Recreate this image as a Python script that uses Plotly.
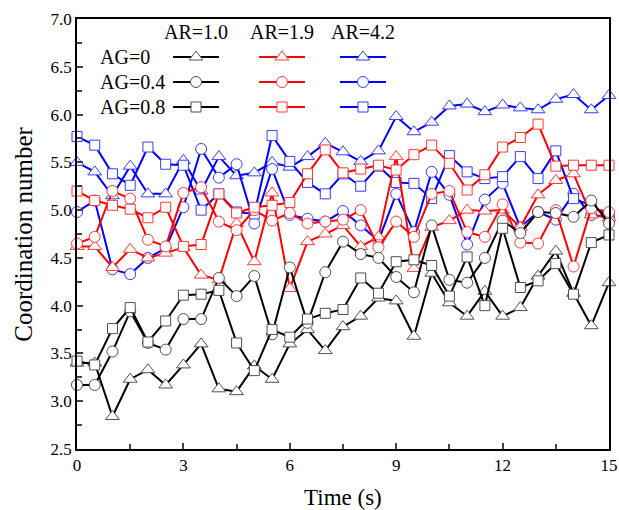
import plotly.graph_objects as go

# ---------------- data ----------------
time_s = [0, 0.5, 1, 1.5, 2, 2.5, 3, 3.5, 4, 4.5, 5, 5.5, 6, 6.5, 7, 7.5,
          8, 8.5, 9, 9.5, 10, 10.5, 11, 11.5, 12, 12.5, 13, 13.5, 14, 14.5, 15]

ar10_ag00 = [3.40, 3.40, 2.84, 3.23, 3.33, 3.17, 3.38, 3.60, 3.13, 3.10, 3.37, 3.23, 3.60, 3.75, 3.53, 3.78,
             3.89, 4.08, 4.05, 3.68, 4.34, 4.03, 3.89, 4.15, 3.89, 3.98, 4.31, 4.57, 4.13, 3.79, 4.24]
ar10_ag04 = [3.17, 3.17, 3.52, 3.94, 3.61, 3.54, 3.86, 3.86, 4.29, 4.10, 4.31, 3.70, 4.40, 3.82, 4.35, 4.67,
             4.54, 4.50, 4.30, 4.14, 4.84, 4.27, 4.24, 4.50, 4.89, 4.76, 4.98, 4.97, 4.93, 5.10, 4.86]
ar10_ag08 = [3.42, 3.38, 3.76, 3.98, 3.62, 3.84, 4.11, 4.12, 4.16, 3.61, 3.32, 3.75, 3.67, 3.86, 3.92, 3.96,
             4.29, 4.13, 4.46, 4.48, 4.42, 4.10, 4.51, 4.00, 4.81, 4.19, 4.26, 4.44, 4.12, 4.66, 4.74]

ar19_ag00 = [4.62, 4.62, 4.40, 4.59, 4.50, 4.55, 4.61, 4.32, 4.27, 4.86, 4.46, 5.18, 4.18, 4.67, 4.75, 4.84,
             4.62, 4.72, 5.56, 4.39, 4.82, 4.89, 5.00, 4.99, 5.00, 4.82, 5.16, 5.31, 5.38, 4.95, 4.92]
ar19_ag04 = [4.65, 4.72, 5.20, 5.12, 4.69, 4.62, 5.18, 5.24, 4.88, 4.79, 5.00, 4.89, 4.97, 4.86, 4.88, 4.90,
             5.00, 4.61, 4.88, 4.72, 5.17, 5.20, 4.77, 4.72, 5.06, 4.66, 4.65, 5.00, 4.41, 5.02, 4.98]
ar19_ag08 = [5.20, 5.10, 5.05, 5.01, 4.92, 5.03, 4.62, 4.64, 5.17, 4.97, 5.03, 5.05, 5.08, 5.38, 5.63, 5.39,
             5.43, 5.47, 5.42, 5.58, 5.68, 5.49, 5.21, 5.37, 5.66, 5.76, 5.90, 5.46, 5.47, 5.47, 5.47]

ar42_ag00 = [5.50, 5.40, 5.15, 5.46, 5.17, 5.17, 5.52, 5.20, 5.56, 5.36, 5.39, 5.50, 5.45, 5.56, 5.70, 5.61,
             5.51, 5.62, 5.98, 5.82, 5.92, 6.09, 6.11, 6.03, 6.10, 6.07, 6.05, 6.16, 6.21, 6.05, 6.20]
ar42_ag04 = [4.98, 5.10, 4.38, 4.33, 4.50, 4.60, 5.03, 5.64, 5.34, 5.48, 4.86, 5.43, 4.95, 4.91, 4.88, 4.99,
             4.84, 4.68, 5.17, 4.77, 5.40, 5.16, 4.64, 5.11, 5.28, 4.82, 4.98, 4.90, 5.17, 4.95, 4.93]
ar42_ag08 = [5.77, 5.68, 5.38, 5.26, 5.66, 5.48, 5.47, 5.00, 5.17, 4.98, 4.96, 5.78, 5.51, 5.29, 5.17, 5.38,
             5.25, 5.46, 5.29, 5.28, 5.12, 5.57, 5.40, 5.33, 5.35, 5.56, 5.33, 5.62, 5.12, 5.05, 4.93]

ar_labels = ["AR=1.0", "AR=1.9", "AR=4.2"]
ag_labels = ["AG=0", "AG=0.4", "AG=0.8"]
x_ticks = [0, 3, 6, 9, 12, 15]
x_title = "Time (s)"
y_title = "Coordination number"

# ---------------- styling ----------------
FONT = "Liberation Serif, Times New Roman, serif"
line_colors = {"AR=1.0": "#000000", "AR=1.9": "#ff0000", "AR=4.2": "#0000ff"}
mk_colors = {"AR=1.0": "#505050", "AR=1.9": "#ff3a3a", "AR=4.2": "#3a3aff"}
symbols = {"AG=0": "triangle-up", "AG=0.4": "circle", "AG=0.8": "square"}
mk_sizes = {"AG=0": 12, "AG=0.4": 11, "AG=0.8": 10}

series = {
    ("AR=4.2", "AG=0"): ar42_ag00, ("AR=4.2", "AG=0.4"): ar42_ag04, ("AR=4.2", "AG=0.8"): ar42_ag08,
    ("AR=1.9", "AG=0"): ar19_ag00, ("AR=1.9", "AG=0.4"): ar19_ag04, ("AR=1.9", "AG=0.8"): ar19_ag08,
    ("AR=1.0", "AG=0"): ar10_ag00, ("AR=1.0", "AG=0.4"): ar10_ag04, ("AR=1.0", "AG=0.8"): ar10_ag08,
}

fig = go.Figure()

for (ar, ag), vals in series.items():
    fig.add_trace(go.Scatter(
        x=time_s, y=vals, mode="lines+markers", name=f"{ar} {ag}",
        line=dict(color=line_colors[ar], width=2),
        marker=dict(symbol=symbols[ag], size=mk_sizes[ag], color="white",
                    line=dict(color=mk_colors[ar], width=1)),
        showlegend=False, cliponaxis=False))

# ---------------- legend table (overlay pixel axes) ----------------
col_x = [196, 282, 363]        # sample centers (px)
row_y = [57, 82, 107]          # rows (px)
half = 23
for ci, ar in enumerate(ar_labels):
    for ri, ag in enumerate(ag_labels):
        fig.add_trace(go.Scatter(
            x=[col_x[ci] - half, col_x[ci] + half], y=[row_y[ri]] * 2,
            xaxis="x2", yaxis="y2", mode="lines",
            line=dict(color=line_colors[ar], width=2),
            showlegend=False, hoverinfo="skip", cliponaxis=False))
        fig.add_trace(go.Scatter(
            x=[col_x[ci]], y=[row_y[ri]], xaxis="x2", yaxis="y2", mode="markers",
            marker=dict(symbol=symbols[ag], size=mk_sizes[ag], color="white",
                        line=dict(color=mk_colors[ar], width=1)),
            showlegend=False, hoverinfo="skip", cliponaxis=False))
    fig.add_annotation(x=col_x[ci], y=32, xref="x2", yref="y2", text=ar,
                       showarrow=False, font=dict(family=FONT, size=20, color="black"))
for ri, ag in enumerate(ag_labels):
    fig.add_annotation(x=98, y=row_y[ri], xref="x2", yref="y2", text=ag, xanchor="left",
                       showarrow=False, font=dict(family=FONT, size=20, color="black"))

# axis titles (paper coordinates, outside the plot area)
fig.add_annotation(x=0.5, y=-0.112, xref="paper", yref="paper", text=x_title, showarrow=False,
                   xanchor="center", yanchor="middle",
                   font=dict(family=FONT, size=23, color="black"))
fig.add_annotation(x=-0.102, y=0.5, xref="paper", yref="paper", text=y_title, showarrow=False,
                   xanchor="center", yanchor="middle",
                   textangle=-90, font=dict(family=FONT, size=25, color="black"))

tickfont = dict(family=FONT, size=17, color="black")
fig.update_layout(
    width=619, height=510,
    margin=dict(l=77, r=10, t=19, b=61),
    plot_bgcolor="white", paper_bgcolor="white",
    font=dict(family=FONT, size=17, color="black"),
    xaxis=dict(range=[0, 15], tickvals=x_ticks, ticks="inside", ticklen=6, tickwidth=1.5,
               tickfont=tickfont,
               minor=dict(dtick=1.5, tick0=0, ticks="inside", ticklen=5, tickwidth=1.5),
               showline=True, mirror=True, linecolor="black", linewidth=1.8,
               showgrid=False, zeroline=False, automargin=False),
    yaxis=dict(range=[2.5, 7.0], dtick=0.5, tick0=2.5, tickformat=".1f", ticks="inside",
               ticklen=6, tickwidth=1.5, tickfont=tickfont,
               minor=dict(dtick=0.25, tick0=2.5, ticks="inside", ticklen=5, tickwidth=1.5),
               showline=True, mirror=True, linecolor="black", linewidth=1.8,
               showgrid=False, zeroline=False, automargin=False),
    xaxis2=dict(overlaying="x", range=[77, 609], visible=False, fixedrange=True),
    yaxis2=dict(overlaying="y", range=[449, 19], visible=False, fixedrange=True),
)

fig.write_html("out.html")
